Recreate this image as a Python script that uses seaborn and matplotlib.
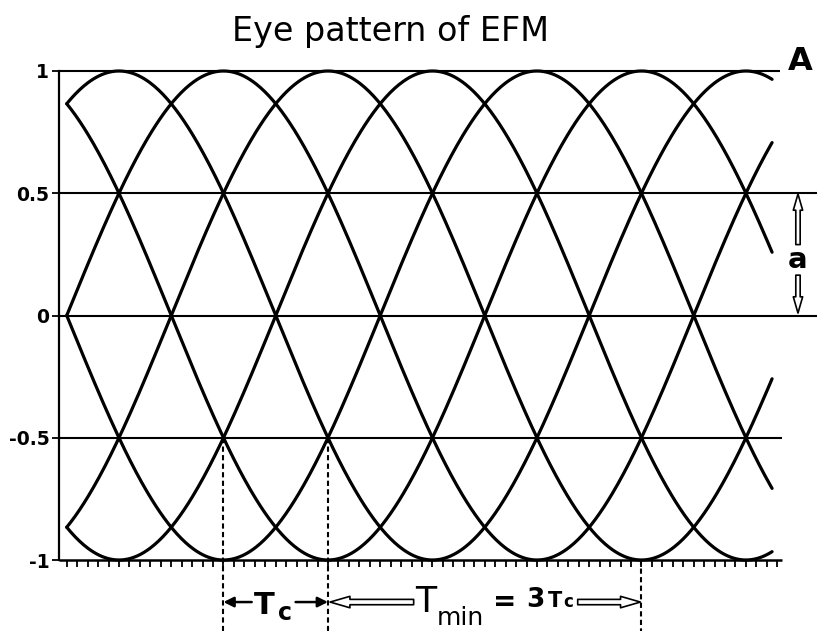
import numpy as np
import pandas as pd
import matplotlib
matplotlib.use("Agg")
import matplotlib.pyplot as plt
from matplotlib.patches import FancyArrowPatch
import seaborn as sns

# EFM read-out: the shortest run T_min = 3 T_c gives a cosine with a period of
# 6 T_c; shifting it by whole clock periods T_c yields the six overlapping traces.
period_tc = 6.0
clock_shifts = [0, 1, 2, 3, 4, 5]
trace_start = -0.5
trace_end = 6.25
amplitude = 1.0
level_values = [1.0, 0.5, 0.0, -0.5, -1.0]
level_labels = ["1", "0.5", "0", "-0.5", "-1"]
clock_marks = [1, 2, 5]

samples = np.linspace(trace_start, trace_end, 500)
frames = []
for k in clock_shifts:
    frames.append(pd.DataFrame({
        "t": samples,
        "v": amplitude * np.cos(2 * np.pi * (samples - k) / period_tc),
        "shift": str(k),
    }))
traces = pd.concat(frames, ignore_index=True)

sns.set_theme(style="white")
plt.rcParams["font.family"] = ["DejaVu Sans"]
plt.rcParams["text.color"] = "black"
plt.rcParams["xtick.color"] = "black"
plt.rcParams["ytick.color"] = "black"
plt.rcParams["axes.labelcolor"] = "black"

fig = plt.figure(figsize=(8.17, 6.35), dpi=100)
ax = fig.add_axes([59 / 817, 75 / 635, 758 / 817, 489 / 635])
x_lo, x_hi = -0.574, 6.68
ax.set_xlim(x_lo, x_hi)
ax.set_ylim(-1, 1)

sns.lineplot(data=traces, x="t", y="v", hue="shift",
             palette=["black"] * len(clock_shifts), legend=False,
             estimator=None, sort=False, lw=2.3, ax=ax)
for ln in ax.lines:
    ln.set_clip_on(False)

# reference levels
level_ends = {1.0: 6.33, 0.5: x_hi, 0.0: x_hi, -0.5: 6.345, -1.0: 6.345}
for lv in level_values:
    ax.plot([x_lo, level_ends[lv]], [lv, lv], color="black",
            lw=1.5 if lv != -1.0 else 1.8, clip_on=False, solid_capstyle="butt")

for side in ["top", "right", "bottom"]:
    ax.spines[side].set_visible(False)
ax.spines["left"].set_color("black")
ax.spines["left"].set_linewidth(1.6)

ax.set_yticks(level_values, labels=level_labels)
ax.set_xticks(np.arange(-0.5, 6.36, 0.1))
ax.tick_params(axis="x", bottom=True, direction="out", length=5, width=1.3,
               color="black", labelbottom=False)
ax.tick_params(axis="y", left=True, direction="out", length=5, width=1.3,
               color="black", labelcolor="black", labelsize=13.5, pad=2)
for lbl in ax.get_yticklabels():
    lbl.set_fontweight("bold")
ax.set_xlabel("")
ax.set_ylabel("")

# dashed clock markers
dash_tops = {1: -0.5, 2: -0.5, 5: -1.0}
for t in clock_marks:
    ax.plot([t, t], [dash_tops[t], -1.29], color="black", lw=1.5,
            ls=(0, (2.5, 1.6)), clip_on=False)

def hollow_arrow(p0, p1, scale=10):
    ax.add_patch(FancyArrowPatch(
        p0, p1, arrowstyle="simple,head_length=1.3,head_width=0.75,tail_width=0.35",
        mutation_scale=scale, fc="white", ec="black", lw=1.2, clip_on=False,
        shrinkA=0, shrinkB=0))

def thin_arrow(p0, p1):
    ax.add_patch(FancyArrowPatch(
        p0, p1, arrowstyle="-|>,head_length=0.6,head_width=0.3",
        mutation_scale=10, fc="black", ec="black", lw=1.8, clip_on=False,
        shrinkA=0, shrinkB=0))

# amplitude labels on the right
ax.text(6.517, 1.037, "A", ha="center", va="center", fontsize=23,
        fontweight="bold", color="black", clip_on=False)
ax.text(6.49, 0.225, "a", ha="center", va="center", fontsize=21,
        fontweight="bold", color="black", clip_on=False)
hollow_arrow((6.498, 0.29), (6.498, 0.497), scale=9)
hollow_arrow((6.498, 0.165), (6.498, 0.01), scale=9)

# clock period and minimum run length
yb = -1.172
thin_arrow((1.27, yb), (1.0, yb))
thin_arrow((1.69, yb), (2.0, yb))
ax.text(1.29, -1.22, "T", ha="left", va="baseline", fontsize=22,
        fontweight="bold", color="black", clip_on=False)
ax.text(1.52, -1.245, "c", ha="left", va="baseline", fontsize=17,
        fontweight="bold", color="black", clip_on=False)

hollow_arrow((2.82, yb), (2.02, yb), scale=11)
ax.text(2.83, -1.213, "T", ha="left", va="baseline", fontsize=25,
        color="black", clip_on=False)
ax.text(3.04, -1.266, "min", ha="left", va="baseline", fontsize=18,
        color="black", clip_on=False)
ax.text(3.69, yb, "=", ha="center", va="center", fontsize=20,
        fontweight="bold", color="black", clip_on=False)
ax.text(3.90, -1.192, "3", ha="left", va="baseline", fontsize=19,
        fontweight="bold", color="black", clip_on=False)
ax.text(4.10, -1.192, "T", ha="left", va="baseline", fontsize=15,
        fontweight="bold", color="black", clip_on=False)
ax.text(4.25, -1.192, "c", ha="left", va="baseline", fontsize=12,
        fontweight="bold", color="black", clip_on=False)
hollow_arrow((4.39, yb), (4.99, yb), scale=11)

fig.text(391 / 817, 1 - 31 / 635, "Eye pattern of EFM", ha="center",
         va="center", fontsize=24, color="black")

fig.savefig("out.png", dpi=100, facecolor="white")
